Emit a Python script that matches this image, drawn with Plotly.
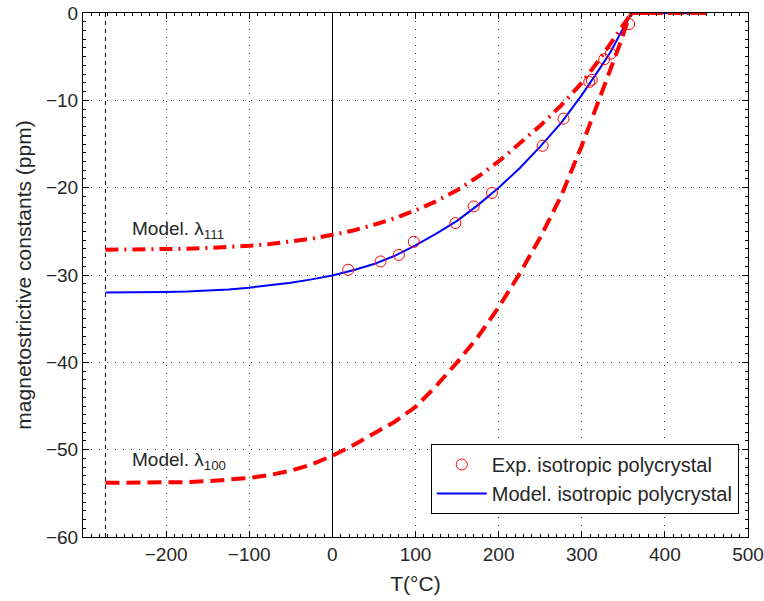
import plotly.graph_objects as go

# ---- data ----
T_model = [-273, -250, -225, -200, -175, -150, -125, -100, -75, -50, -25, 0, 25, 50, 75,
           100, 125, 150, 175, 200, 225, 250, 275, 300, 320, 335, 345, 355, 360, 400, 450]
lambda100 = [-53.8, -53.8, -53.8, -53.78, -53.72, -53.6, -53.45, -53.25, -52.9, -52.4,
             -51.7, -50.7, -49.5, -48.2, -46.8, -45.1, -42.7, -40.0, -37.1, -33.7,
             -29.9, -25.7, -21.0, -15.2, -10.2, -6.4, -3.8, -1.0, 0.0, 0.0, 0.0]
lambda111 = [-27.1, -27.1, -27.08, -27.05, -27.0, -26.9, -26.8, -26.65, -26.45, -26.2,
             -25.85, -25.4, -24.9, -24.25, -23.5, -22.6, -21.55, -20.3, -18.75, -17.0,
             -14.9, -12.9, -10.6, -8.0, -5.5, -3.4, -2.0, -0.6, 0.0, 0.0, 0.0]
lambda_poly_model = [-32.0, -32.0, -31.98, -31.95, -31.9, -31.8, -31.65, -31.45, -31.2,
                     -30.9, -30.5, -30.05, -29.45, -28.75, -27.8, -26.6, -25.25, -23.8,
                     -22.0, -20.0, -17.8, -15.3, -12.6, -9.4, -6.6, -4.4, -2.6, -0.8,
                     0.0, 0.0, 0.0]

T_exp = [19, 58, 80, 98, 148, 170, 192, 253, 278, 309, 312, 327, 335, 357]
lambda_exp = [-29.4, -28.45, -27.7, -26.2, -24.05, -22.15, -20.6, -15.2, -12.1,
              -7.9, -7.65, -5.3, -4.66, -1.26]

T_abs_zero = -273
y_range = [-60, 0]
x_range = [-300, 500]
x_ticks = [-200, -100, 0, 100, 200, 300, 400, 500]
y_ticks = [-60, -50, -40, -30, -20, -10, 0]

FONT = "Liberation Sans, Arial, Helvetica, sans-serif"
TXT = "#262626"

fig = go.Figure()

# absolute zero marker line
fig.add_trace(go.Scatter(x=[T_abs_zero, T_abs_zero], y=y_range, mode="lines",
                         line=dict(color="black", width=1, dash="4px,4px"),
                         showlegend=False, hoverinfo="skip"))

fig.add_trace(go.Scatter(x=T_model, y=lambda_poly_model, mode="lines",
                         name="Model. isotropic polycrystal",
                         line=dict(color="#0000ff", width=2), legendrank=2))
fig.add_trace(go.Scatter(x=T_exp, y=lambda_exp, mode="markers",
                         name="Exp. isotropic polycrystal",
                         marker=dict(symbol="circle-open", size=11,
                                     color="#ff0000", line=dict(width=1, color="#ff0000")),
                         legendrank=1))
fig.add_trace(go.Scatter(x=T_model, y=lambda111, mode="lines",
                         line=dict(color="#ff0000", width=4, dash="13px,6px,2px,6px"),
                         showlegend=False))
fig.add_trace(go.Scatter(x=T_model, y=lambda100, mode="lines",
                         line=dict(color="#ff0000", width=4, dash="14px,7px"),
                         showlegend=False))

fig.add_annotation(x=-244, y=-24.9, xref="x", yref="y", xanchor="left", yanchor="middle",
                   text="Model. λ<sub>111</sub>", showarrow=False,
                   font=dict(family=FONT, size=19, color=TXT))
fig.add_annotation(x=-244, y=-51.3, xref="x", yref="y", xanchor="left", yanchor="middle",
                   text="Model. λ<sub>100</sub>", showarrow=False,
                   font=dict(family=FONT, size=19, color=TXT))

axis_common = dict(
    showline=True, linecolor="black", linewidth=1, mirror="ticks",
    ticks="inside", ticklen=6, tickcolor="black", tickwidth=1,
    showgrid=True, gridcolor="#333333", gridwidth=1, griddash="1px,7px",
    tickfont=dict(family=FONT, size=19, color=TXT),
    automargin=False,
)

fig.update_xaxes(range=x_range, tickvals=x_ticks,
                 zeroline=True, zerolinecolor="black", zerolinewidth=1,
                 minor=dict(ticks="inside", ticklen=3, dtick=10, tickcolor="black", showgrid=False),
                 title=dict(text="T(°C)", font=dict(family=FONT, size=21, color=TXT), standoff=12),
                 **axis_common)
fig.update_yaxes(range=y_range, tickvals=y_ticks, zeroline=False,
                 minor=dict(ticks="inside", ticklen=3, dtick=1, tickcolor="black", showgrid=False),
                 title=dict(text="magnetostrictive constants (ppm)",
                            font=dict(family=FONT, size=21, color=TXT), standoff=8),
                 **axis_common)

fig.update_layout(
    width=764, height=601,
    margin=dict(l=83, r=16, t=13, b=64),
    paper_bgcolor="white", plot_bgcolor="white",
    showlegend=True,
    legend=dict(x=0.523, y=0.1775, xanchor="left", yanchor="top",
                bgcolor="white", bordercolor="black", borderwidth=1,
                font=dict(family=FONT, size=20, color=TXT),
                itemwidth=50, tracegroupgap=0),
)

fig.write_html("out.html")
